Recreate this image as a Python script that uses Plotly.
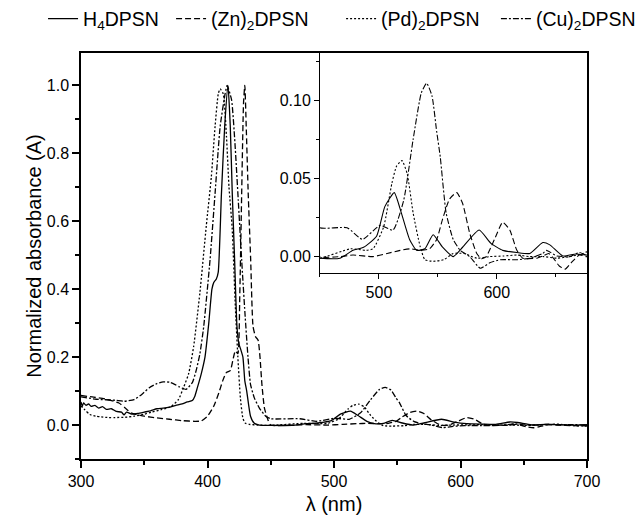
import plotly.graph_objects as go

# ---- data ----
wl_h4 = [300, 301, 302, 304, 306, 308, 311, 314, 317, 320, 324, 328, 332, 334, 336, 340, 345, 350, 355, 360,
         365, 370, 375, 380, 384, 388, 390, 392, 395, 398, 401, 403.5, 405, 407, 408.5, 411, 413.6, 416.2, 418,
         419.6, 421.4, 423.3, 424.8, 426.5, 428, 429.5, 431, 434, 437, 441, 450, 467, 478, 487, 498, 505, 513,
         519, 526, 532, 539, 546, 554, 563, 571, 585, 595, 605, 617, 628, 639, 645, 656, 667, 676, 690, 700]
abs_h4 = [0.068, 0.055, 0.065, 0.058, 0.062, 0.055, 0.058, 0.050, 0.054, 0.046, 0.048, 0.040, 0.038, 0.030, 0.038,
          0.032, 0.034, 0.038, 0.042, 0.048, 0.050, 0.053, 0.058, 0.062, 0.068, 0.072, 0.085, 0.110, 0.150, 0.200,
          0.300, 0.400, 0.420, 0.430, 0.450, 0.680, 0.880, 1.000, 0.880, 0.680, 0.490, 0.290, 0.240, 0.220, 0.200,
          0.130, 0.100, 0.026, 0.005, 0.000, -0.001, -0.001, 0.004, 0.006, 0.013, 0.032, 0.041, 0.028, 0.011,
          0.004, 0.005, 0.014, 0.006, 0.000, 0.006, 0.017, 0.0085, 0.004, 0.0026, 0.002, 0.009, 0.0075, 0.0004,
          0.0017, 0.001, 0.000, 0.001]

wl_zn = [300, 310, 320, 330, 335, 340, 345, 350, 360, 370, 380, 390, 395, 400, 405, 409, 412, 415, 418, 420, 422,
         424, 425.5, 427, 428.5, 429.5, 430.6, 432.2, 434.1, 436, 438, 440, 441.5, 443, 445, 448, 450, 467, 478,
         495, 507, 518, 527, 535, 543, 549, 554, 560, 566, 571, 577, 583, 587, 591, 598, 605, 611, 617, 622, 634,
         639, 644, 648, 653, 658, 663, 670, 676, 690, 700]
abs_zn = [0.087, 0.082, 0.076, 0.065, 0.050, 0.035, 0.030, 0.026, 0.021, 0.017, 0.013, 0.011, 0.012, 0.026, 0.056,
          0.095, 0.130, 0.155, 0.160, 0.190, 0.218, 0.210, 0.380, 0.680, 0.950, 1.000, 0.880, 0.680, 0.490, 0.290,
          0.260, 0.250, 0.200, 0.120, 0.050, 0.013, 0.000, 0.000, 0.001, 0.000, 0.002, 0.004, 0.005, 0.004, 0.005,
          0.011, 0.024, 0.037, 0.041, 0.034, 0.015, 0.002, -0.0014, 0.000, 0.011, 0.022, 0.017, 0.004, -0.001,
          -0.001, 0.0004, 0.002, -0.001, -0.006, -0.008, -0.004, 0.001, 0.000, -0.002, -0.002]

wl_pd = [300, 303, 307, 312, 316, 322, 327, 335, 342, 350, 356, 364, 371, 377, 381, 385, 389, 394, 399, 403, 406,
         408.5, 410, 412.5, 415, 417, 419.5, 422, 424, 426, 428, 430, 433, 440, 450, 476, 489, 495, 504, 511, 515,
         519.5, 524, 529, 535, 539, 546, 555, 563, 572, 583, 594, 606, 617, 628, 640, 651, 662, 673, 676, 690, 700]
abs_pd = [0.056, 0.045, 0.031, 0.026, 0.024, 0.022, 0.022, 0.023, 0.026, 0.032, 0.038, 0.046, 0.054, 0.075, 0.110,
          0.150, 0.230, 0.390, 0.585, 0.730, 0.880, 0.975, 0.990, 0.975, 0.850, 0.700, 0.580, 0.350, 0.200, 0.080,
          0.020, 0.005, 0.002, 0.000, -0.001, 0.005, 0.004, 0.005, 0.019, 0.047, 0.058, 0.0615, 0.053, 0.028,
          0.0064, -0.002, -0.003, -0.002, 0.002, 0.002, -0.001, 0.000, 0.0004, 0.001, 0.000, 0.000, -0.001, 0.000,
          0.002, 0.003, -0.002, -0.003]

wl_cu = [300, 312, 327, 334, 342, 348, 354, 360, 365, 370, 374, 378, 383, 388, 391, 394, 397, 402, 406, 410, 414,
         415.5, 419, 421.7, 424.3, 427, 429.6, 432, 434, 437, 441, 446, 450, 473, 486, 501, 512, 521, 529, 536,
         540.5, 545, 549, 552, 557, 563, 569, 577, 586, 594, 603, 617, 628, 639, 642, 651, 662, 670, 676, 690, 700]
abs_cu = [0.083, 0.076, 0.073, 0.070, 0.075, 0.090, 0.110, 0.122, 0.127, 0.126, 0.120, 0.112, 0.105, 0.125, 0.160,
          0.210, 0.290, 0.486, 0.683, 0.879, 0.977, 1.000, 0.958, 0.830, 0.663, 0.486, 0.330, 0.200, 0.120, 0.080,
          0.050, 0.026, 0.0185, 0.0185, 0.011, 0.020, 0.017, 0.036, 0.075, 0.105, 0.111, 0.103, 0.080, 0.064,
          0.028, 0.011, 0.004, 0.000, -0.0075, -0.004, -0.002, -0.002, -0.001, 0.002, 0.004, 0.0004, 0.000,
          0.0026, 0.001, 0.001, 0.000]

series = [
    ("H<sub>4</sub>DPSN", wl_h4, abs_h4, "solid", "legend"),
    ("(Zn)<sub>2</sub>DPSN", wl_zn, abs_zn, "6px,3px", "legend2"),
    ("(Pd)<sub>2</sub>DPSN", wl_pd, abs_pd, "2px,2px", "legend3"),
    ("(Cu)<sub>2</sub>DPSN", wl_cu, abs_cu, "6px,2px,2px,2px", "legend4"),
]
legend_x = [-0.075, 0.178, 0.514, 0.820]

FONT = "Liberation Sans, Arial, sans-serif"

fig = go.Figure()
for name, x, y, dash, lg in series:
    fig.add_trace(go.Scatter(x=x, y=y, mode="lines", name=name, legend=lg,
                             line=dict(color="black", width=1.3, dash=dash, shape="spline", smoothing=0.5),
                             xaxis="x", yaxis="y"))
for name, x, y, dash, lg in series:
    fig.add_trace(go.Scatter(x=x, y=y, mode="lines", name=name, showlegend=False,
                             line=dict(color="black", width=1.1, dash=dash, shape="spline", smoothing=0.5),
                             xaxis="x2", yaxis="y2"))

axis_common = dict(showline=True, linecolor="black", mirror=True, ticks="outside",
                   tickcolor="black", showgrid=False, zeroline=False)

legend_common = dict(orientation="h", xanchor="left", y=1.0837, yanchor="middle",
                     font=dict(size=19.5), bgcolor="rgba(0,0,0,0)", itemwidth=30)

fig.update_layout(
    width=640, height=518, autosize=False,
    margin=dict(l=81, r=53, t=53, b=59, autoexpand=False),
    paper_bgcolor="white", plot_bgcolor="white",
    font=dict(family=FONT, color="black", size=16),
    xaxis=dict(domain=[0, 1], range=[300, 700], tick0=300, dtick=100,
               linewidth=1.5, ticklen=7, tickwidth=1.5,
               minor=dict(dtick=50, ticks="outside", ticklen=4, tickwidth=1.5, tickcolor="black"),
               tickfont=dict(size=16),
               title=dict(text="λ (nm)", font=dict(size=20), standoff=8),
               **axis_common),
    yaxis=dict(domain=[0, 1], range=[-0.1, 1.0955], tick0=0, dtick=0.2, tickformat=".1f",
               linewidth=1.5, ticklen=7, tickwidth=1.5,
               minor=dict(dtick=0.1, ticks="outside", ticklen=4, tickwidth=1.5, tickcolor="black"),
               tickfont=dict(size=16),
               title=dict(text="Normalized absorbance (A)", font=dict(size=20), standoff=0),
               **axis_common),
    xaxis2=dict(domain=[0.4723, 1], range=[450, 676.5], anchor="y2", tick0=500, dtick=100,
                linewidth=1, ticklen=5, tickwidth=1,
                minor=dict(dtick=50, ticks="outside", ticklen=3, tickwidth=1, tickcolor="black"),
                tickfont=dict(size=16), **axis_common),
    yaxis2=dict(domain=[0.4589, 1], range=[-0.0103, 0.1304], anchor="x2", tick0=0, dtick=0.05,
                tickformat=".2f", linewidth=1, ticklen=5, tickwidth=1,
                minor=dict(dtick=0.025, ticks="outside", ticklen=3, tickwidth=1, tickcolor="black"),
                tickfont=dict(size=16), **axis_common),
    legend=dict(x=legend_x[0], **legend_common),
    legend2=dict(x=legend_x[1], **legend_common),
    legend3=dict(x=legend_x[2], **legend_common),
    legend4=dict(x=legend_x[3], **legend_common),
    showlegend=True,
)

fig.write_html("out.html", config=dict(displayModeBar=False),
               post_script="document.body.style.margin='0';document.body.style.overflow='hidden';")
